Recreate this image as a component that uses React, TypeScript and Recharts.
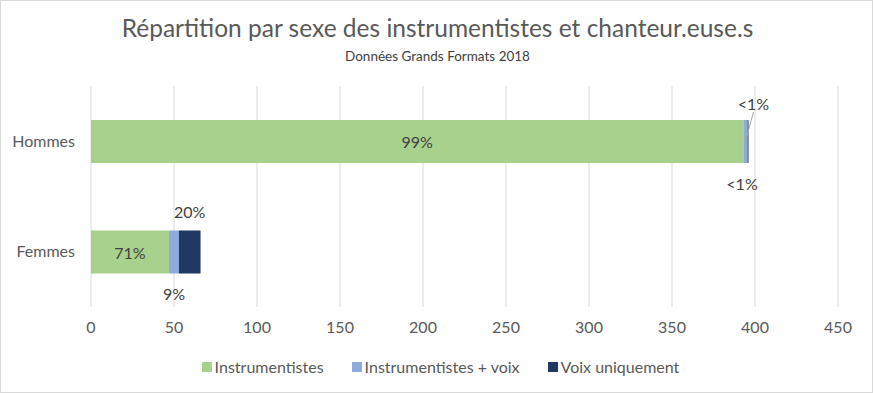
import { BarChart, Bar, XAxis, YAxis, CartesianGrid, Legend, LabelList } from 'recharts';

const categories = ['Hommes', 'Femmes'];
const instrumentistes = [393, 47];
const instrVoix = [2.5, 6];
const voixSeule = [0.6, 13];
const xTicks = [0, 50, 100, 150, 200, 250, 300, 350, 400, 450];

const GREEN = '#a9d18e';
const BLUE = '#8faadc';
const NAVY = '#203864';
const TEXT = '#595959';
const FONT = 'Lato, "Open Sans", sans-serif';

const totals = categories.map((_, i) => instrumentistes[i] + instrVoix[i] + voixSeule[i]);

const data = categories.map((name, i) => ({
  name,
  instr: instrumentistes[i],
  instrVoix: instrVoix[i],
  voix: voixSeule[i],
}));

function pct(value: number, i: number) {
  const p = (value / totals[i]) * 100;
  if (p < 1) return '<1%';
  return `${Math.round(p)}%`;
}

// eslint-disable-next-line @typescript-eslint/no-explicit-any
function CenterLabel({ x, y, width, height, value, index }: any) {
  return (
    <text x={x + width / 2} y={y + height / 2} textAnchor="middle" dominantBaseline="central"
      fontSize={16} fill="#404040" fontFamily={FONT}>
      {pct(value, index)}
    </text>
  );
}

// Small segments: label above or below the bar, with a leader line on Hommes
function sideLabel(position: ('above' | 'below')[]) {
  // eslint-disable-next-line @typescript-eslint/no-explicit-any
  return ({ x, y, width, height, value, index }: any) => {
    const cx = x + width / 2;
    const txt = pct(value, index);
    if (position[index] === 'above') {
      if (index === 0) {
        return (
          <g>
            <line x1={cx} y1={y + height / 2} x2={cx + 8} y2={y - 8} stroke="#a6a6a6" strokeWidth={1} />
            <text x={cx + 8} y={y - 17} textAnchor="middle" dominantBaseline="central"
              fontSize={16} fill="#404040" fontFamily={FONT}>{txt}</text>
          </g>
        );
      }
      return (
        <text x={cx} y={y - 19} textAnchor="middle" dominantBaseline="central"
          fontSize={16} fill="#404040" fontFamily={FONT}>{txt}</text>
      );
    }
    return (
      <text x={index === 0 ? cx - 6 : cx} y={y + height + 20} textAnchor="middle" dominantBaseline="central"
        fontSize={16} fill="#404040" fontFamily={FONT}>{txt}</text>
    );
  };
}

const legendItems = [
  { label: 'Instrumentistes', color: GREEN },
  { label: 'Instrumentistes + voix', color: BLUE },
  { label: 'Voix uniquement', color: NAVY },
];

function ChartLegend() {
  return (
    <div style={{
      display: 'flex', justifyContent: 'center', gap: 28, paddingLeft: 43,
      fontFamily: FONT, fontSize: 16, color: TEXT,
    }}>
      {legendItems.map((it) => (
        <div key={it.label} style={{ display: 'flex', alignItems: 'center', gap: 3 }}>
          <span style={{ width: 10, height: 10, background: it.color, display: 'inline-block' }} />
          <span>{it.label}</span>
        </div>
      ))}
    </div>
  );
}

export default function App() {
  return (
    <div
      style={{
        position: 'absolute', left: 0, top: 0, width: 873, height: 393, background: '#fff',
        border: '1px solid #d9d9d9', boxSizing: 'border-box', fontFamily: FONT,
      }}
    >
      <div style={{ position: 'absolute', top: 12, left: 0, width: 873, textAlign: 'center', fontSize: 24.5, color: TEXT }}>
        Répartition par sexe des instrumentistes et chanteur.euse.s
      </div>
      <div style={{ position: 'absolute', top: 47, left: 0, width: 873, textAlign: 'center', fontSize: 13.5, color: '#404040' }}>
        Données Grands Formats 2018
      </div>
      <div style={{ position: 'absolute', left: -1, top: -1 }}>
        <BarChart width={873} height={393} data={data} layout="vertical"
          margin={{ top: 86, right: 35, bottom: 37, left: 0 }}>
          <CartesianGrid horizontal={false} stroke="#d9d9d9" />
          <XAxis type="number" domain={[0, 450]} ticks={xTicks} axisLine={false} tickLine={false}
            tickMargin={9} tick={{ fontSize: 16, fill: TEXT, fontFamily: FONT }} height={30} />
          <YAxis type="category" dataKey="name" width={91} axisLine={false} tickLine={false}
            tickMargin={10} tick={{ fontSize: 16, fill: TEXT, fontFamily: FONT }} />
          <Legend verticalAlign="bottom" content={<ChartLegend />} wrapperStyle={{ top: 357 }} />
          <Bar dataKey="instr" stackId="a" fill={GREEN} barSize={43} isAnimationActive={false}>
            <LabelList dataKey="instr" content={<CenterLabel />} />
          </Bar>
          <Bar dataKey="instrVoix" stackId="a" fill={BLUE} barSize={43} isAnimationActive={false}>
            <LabelList dataKey="instrVoix" content={sideLabel(['above', 'below'])} />
          </Bar>
          <Bar dataKey="voix" stackId="a" fill={NAVY} barSize={43} isAnimationActive={false}>
            <LabelList dataKey="voix" content={sideLabel(['below', 'above'])} />
          </Bar>
        </BarChart>
      </div>
    </div>
  );
}
